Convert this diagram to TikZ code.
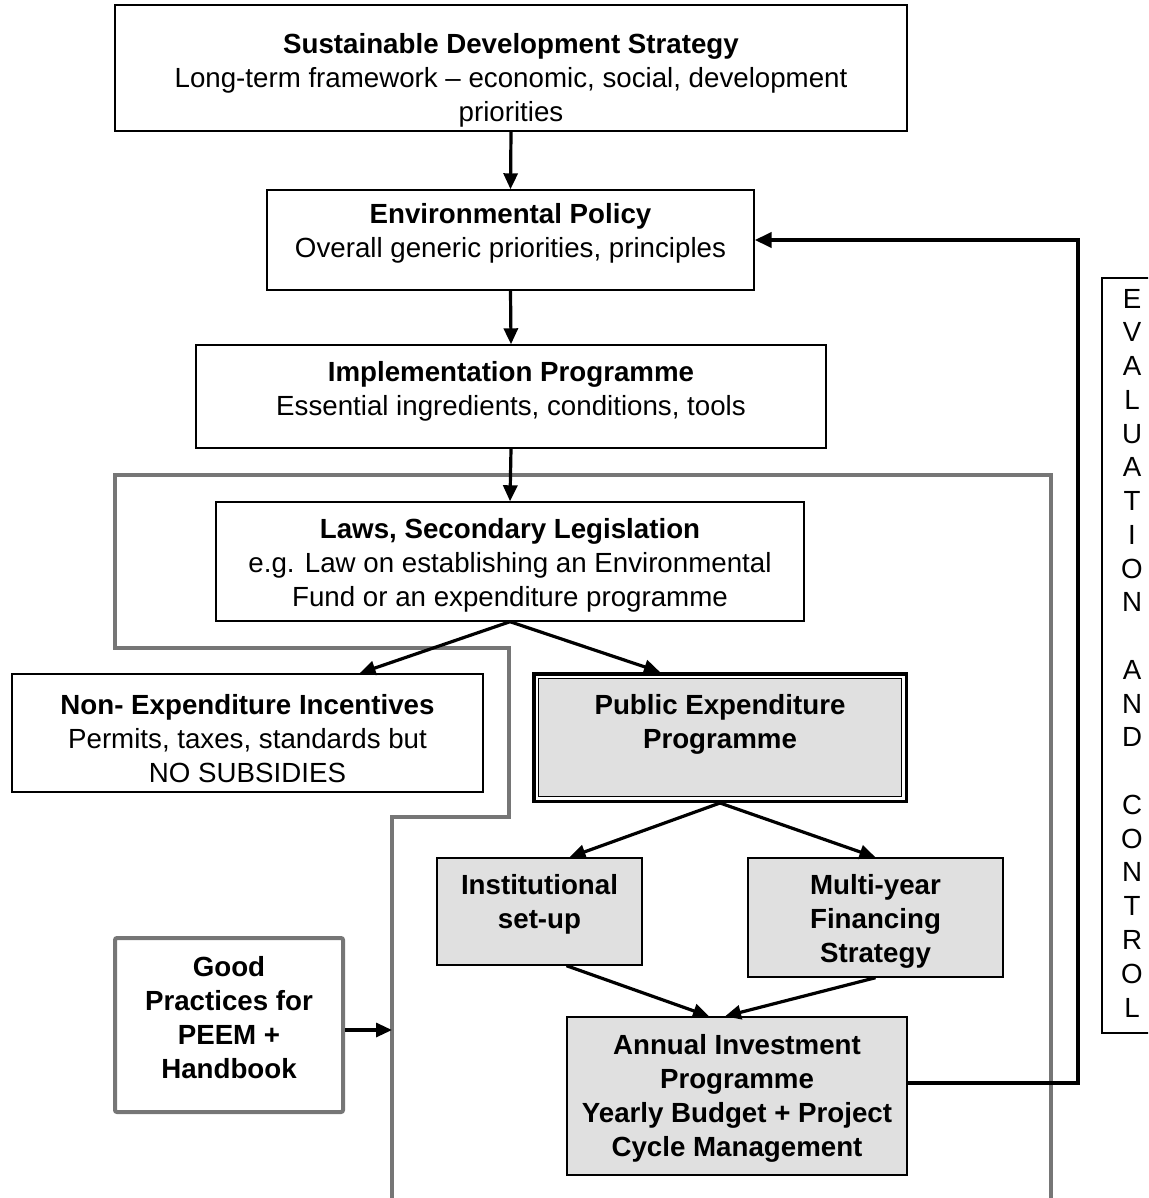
\documentclass[tikz,border=0pt]{standalone}
\usepackage{fontspec}
\setmainfont{Liberation Sans}
\usetikzlibrary{arrows.meta,calc}
\definecolor{frameGray}{RGB}{118,118,118}
\definecolor{boxFill}{RGB}{224,224,224}
\begin{document}
\begin{tikzpicture}[x=1pt,y=-1pt,
  box/.style={draw=black, line width=1.4pt, rectangle, inner sep=0pt},
  shaded/.style={box, fill=boxFill},
  txt/.style={align=center, inner sep=0pt, font=\fontsize{27.7}{34}\selectfont},
  bold/.style={txt, font=\fontsize{27.7}{34}\selectfont\bfseries},
  arr/.style={draw=black, line width=3.2pt, -{Triangle[length=16pt,width=14pt]}},
  frame/.style={draw=frameGray, line width=4pt, line join=miter},
  feedback/.style={draw=black, line width=4pt, -{Triangle[length=17pt,width=15pt]}}]
\useasboundingbox (0,0) rectangle (1148,1198);
\clip (0,0) rectangle (1148,1198);

% grey boundary of the expenditure management area
\draw[frame] (392,1210) -- (392,817) -- (509,817) -- (509,648) -- (115,648)
  -- (115,475) -- (1051,475) -- (1051,1210);

% policy chain
\node[box, minimum width=792pt, minimum height=126pt] (sds) at (511,68) {};
\node[txt] (sdsT) at (511,80) {\textbf{Sustainable Development Strategy}\\Long-term framework – economic, social, development\\priorities};

\node[box, minimum width=487pt, minimum height=100pt] (env) at (510.5,240) {};
\node[txt] (envT) at (510.5,233) {\textbf{Environmental Policy}\\Overall generic priorities, principles};

\node[box, minimum width=630pt, minimum height=103pt] (impl) at (511,396.5) {};
\node[txt] (implT) at (511,391) {\textbf{Implementation Programme}\\Essential ingredients, conditions, tools};

\node[box, minimum width=588pt, minimum height=119pt] (laws) at (510,561.5) {};
\node[txt] (lawsT) at (510,565) {\textbf{Laws, Secondary Legislation}\\e.g. Law on establishing an Environmental\\Fund or an expenditure programme};

\node[box, minimum width=471pt, minimum height=118pt] (nei) at (247.5,733) {};
\node[txt] (neiT) at (247.5,739) {\textbf{Non- Expenditure Incentives}\\Permits, taxes, standards but\\NO SUBSIDIES};

% public expenditure programme with its double frame
\node[draw=black, line width=3.5pt, fill=white, minimum width=372.5pt, minimum height=127.5pt, inner sep=0pt] (pep) at (720,737.5) {};
\draw[line width=1.3pt, fill=boxFill] ([shift={(6.2,6.2)}]pep.north west) rectangle ([shift={(-6.2,-6.2)}]pep.south east);
\node[bold] (pepT) at (720,724) {Public Expenditure\\Programme};

\node[shaded, minimum width=205pt, minimum height=107pt] (inst) at (539.5,911.5) {};
\node[bold] (instT) at (539.5,904) {Institutional\\set-up};

\node[shaded, minimum width=255pt, minimum height=119pt] (myf) at (875.5,917.5) {};
\node[bold] (myfT) at (875.5,921) {Multi-year\\Financing\\Strategy};

\node[shaded, minimum width=340pt, minimum height=158pt] (aip) at (737,1096) {};
\node[bold] (aipT) at (737,1098) {Annual Investment\\Programme\\Yearly Budget + Project\\Cycle Management};

\node[draw=frameGray, line width=4pt, rounded corners=2pt, minimum width=228pt, minimum height=174pt, inner sep=0pt] (gp) at (229,1025) {};
\node[bold] (gpT) at (229,1018) {Good\\Practices for\\PEEM +\\Handbook};

% evaluation and control column
\node[draw=black, line width=2.5pt, minimum width=63pt, minimum height=755pt, inner sep=0pt] (eval) at (1133.5,655.5) {};
\node[txt, font=\fontsize{27.7}{33.76}\selectfont] (evalT) at (1132,653) {E\\V\\A\\L\\U\\A\\T\\I\\O\\N\\\mbox{}\\A\\N\\D\\\mbox{}\\C\\O\\N\\T\\R\\O\\L};

% connectors
\draw[arr] (sds.south) -- (env.north);
\draw[arr] (env.south) -- (impl.north);
\draw[arr] (impl.south) -- (laws.north);
\draw[arr] (laws.south) -- ([xshift=112pt]nei.north);
\draw[arr] (laws.south) -- ([xshift=-60pt]pep.north);
\draw[arr] (pep.south) -- ([xshift=30pt]inst.north);
\draw[arr] (pep.south) -- (myf.north);
\draw[arr] ([xshift=27pt]inst.south) -- ([xshift=-28pt]aip.north);
\draw[arr] (myf.south) -- ([xshift=-12pt]aip.north);

\coordinate (gpTip) at (392,1030);
\draw[arr] (gp.east |- gpTip) -- (gpTip);

\coordinate (fbX) at (1078,0);
\draw[feedback, line join=miter] ([yshift=13pt]aip.east) -| (fbX |- env.east) -- (env.east);
\end{tikzpicture}
\end{document}
